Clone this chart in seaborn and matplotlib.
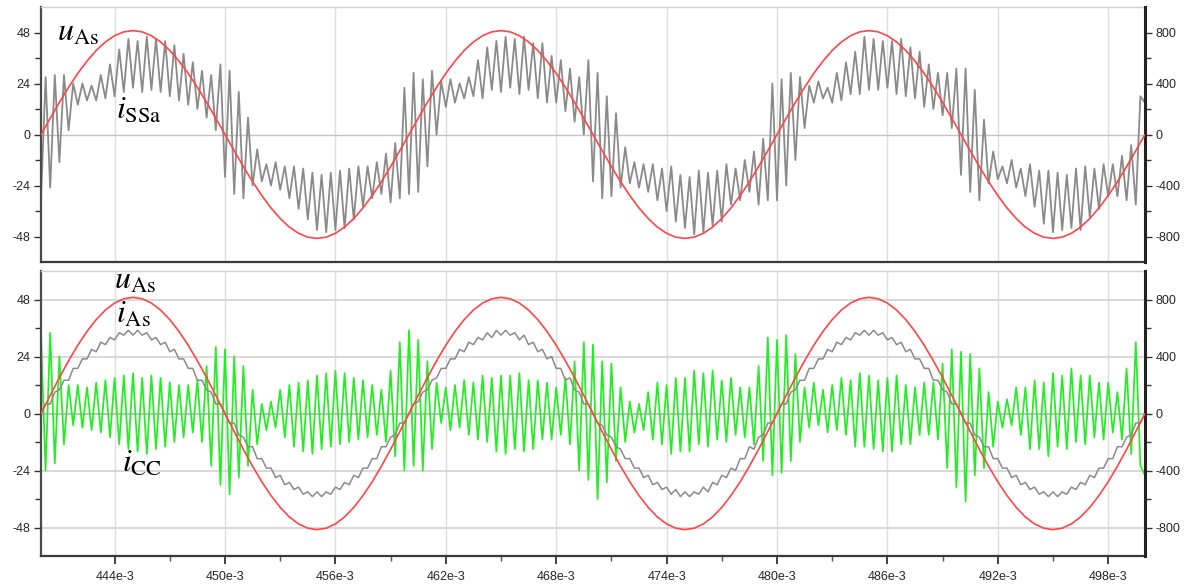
import numpy as np
import pandas as pd
import matplotlib
matplotlib.use("Agg")
import matplotlib.pyplot as plt
import seaborn as sns

# ---------------- data ----------------
T0 = 0.440          # s, left edge of the record
DT_I = 0.00025      # s, sample step of the current traces
DT_U = 0.0005       # s, sample step of the voltage trace

# supply voltage u_As (right axis, V), 0.5 ms samples, 440e-3 .. 500e-3
u_As = [
    0, 127, 252, 370, 479, 576, 659, 726, 775, 805, 815, 805, 775, 726, 659, 576, 479, 370, 252, 127,
    0, -127, -252, -370, -479, -576, -659, -726, -775, -805, -815, -805, -775, -726, -659, -576, -479, -370, -252, -127,
    0, 127, 252, 370, 479, 576, 659, 726, 775, 805, 815, 805, 775, 726, 659, 576, 479, 370, 252, 127,
    0, -127, -252, -370, -479, -576, -659, -726, -775, -805, -815, -805, -775, -726, -659, -576, -479, -370, -252, -127,
    0, 127, 252, 370, 479, 576, 659, 726, 775, 805, 815, 805, 775, 726, 659, 576, 479, 370, 252, 127,
    0, -127, -252, -370, -479, -576, -659, -726, -775, -805, -815, -805, -775, -726, -659, -576, -479, -370, -252, -127,
    0,
]

# load-side current i_SSa (top panel, left axis, A), 0.25 ms samples
i_SSa = [
    -30, 27, -25, 28, -13, 28, 2, 24, 14, 24,
    16, 23, 16, 28, 17, 33, 18, 40, 20, 45,
    22, 44, 20, 46, 21, 45, 20, 44, 18, 42,
    16, 38, 14, 34, 12, 30, 8, 28, 2, 33,
    -20, 30, -28, 20, -30, 8, -24, -7, -22, -14,
    -24, -13, -26, -15, -30, -15, -35, -16, -40, -18,
    -45, -19, -46, -18, -45, -17, -44, -16, -40, -15,
    -34, -15, -30, -13, -28, -9, -32, -4, -30, 22,
    -28, 29, -27, 26, -15, 30, 0, 25, 13, 26,
    15, 24, 17, 27, 18, 35, 17, 41, 21, 44,
    20, 46, 22, 45, 19, 46, 21, 43, 17, 43,
    15, 37, 15, 35, 11, 31, 6, 27, 0, 35,
    -22, 29, -30, 18, -29, 10, -25, -6, -23, -13,
    -25, -14, -27, -14, -31, -16, -36, -15, -41, -19,
    -44, -20, -47, -17, -46, -18, -43, -17, -41, -14,
    -33, -16, -31, -12, -27, -8, -33, -2, -31, 24,
    -31, 26, -24, 29, -12, 27, 3, 23, 15, 25,
    17, 22, 15, 29, 16, 34, 19, 39, 19, 46,
    21, 45, 21, 44, 22, 44, 19, 45, 18, 41,
    17, 39, 13, 33, 12, 29, 9, 29, 3, 31,
    -19, 31, -27, 21, -31, 7, -23, -8, -21, -15,
    -23, -12, -25, -16, -29, -14, -34, -17, -42, -17,
    -46, -18, -45, -19, -44, -16, -45, -15, -39, -16,
    -35, -14, -29, -14, -29, -10, -31, -5, -33, 18,
    15,
]

# source current i_As (bottom panel, left axis, A), 0.25 ms samples
i_As = [
    0, 4, 4, 9, 10, 14, 14, 19, 19, 23, 23, 27, 26, 30, 29, 32, 31, 34, 33, 35,
    33, 35, 33, 34, 31, 32, 29, 30, 26, 27, 23, 23, 19, 19, 14, 14, 10, 9, 4, 4,
    0, -4, -4, -9, -10, -14, -14, -19, -19, -23, -23, -27, -26, -30, -29, -32, -31, -34, -33, -35,
    -33, -35, -33, -34, -31, -32, -29, -30, -26, -27, -23, -23, -19, -19, -14, -14, -10, -9, -4, -4,
    0, 4, 5, 9, 10, 14, 15, 19, 19, 23, 23, 27, 26, 30, 29, 32, 31, 34, 32, 35,
    33, 35, 33, 34, 31, 33, 29, 30, 26, 27, 23, 24, 19, 19, 14, 15, 10, 9, 4, 4,
    0, -4, -5, -9, -10, -14, -15, -19, -19, -23, -23, -27, -26, -30, -29, -32, -31, -34, -32, -35,
    -33, -35, -33, -34, -31, -33, -29, -30, -26, -27, -23, -24, -19, -19, -14, -15, -10, -9, -4, -4,
    0, 4, 4, 9, 10, 14, 14, 19, 19, 23, 23, 27, 26, 30, 29, 32, 31, 34, 33, 35,
    33, 35, 33, 34, 31, 32, 29, 30, 26, 27, 23, 23, 19, 19, 14, 14, 10, 9, 4, 4,
    0, -4, -4, -9, -10, -14, -14, -19, -19, -23, -23, -27, -26, -30, -29, -32, -31, -34, -33, -35,
    -33, -35, -33, -34, -31, -32, -29, -30, -26, -27, -23, -23, -19, -19, -14, -14, -10, -9, -4, -4,
    0,
]

# compensating current i_CC (bottom panel, left axis, A), 0.25 ms samples
i_CC = [
    33, -24, 34, -21, 24, -13, 12, -5, 12, -6,
    11, -7, 13, -8, 14, -10, 15, -13, 16, -15,
    17, -16, 15, -17, 16, -15, 15, -14, 13, -12,
    12, -10, 12, -8, 14, -12, 20, -22, 28, -30,
    27, -34, 24, -27, 20, -22, 10, -13, 4, -7,
    5, -6, 10, -10, 12, -14, 13, -16, 14, -17,
    16, -15, 17, -14, 18, -13, 17, -12, 15, -11,
    14, -10, 12, -9, 10, -12, 18, -18, 30, -24,
    35, -22, 31, -24, 22, -15, 13, -4, 11, -7,
    12, -6, 14, -9, 13, -11, 16, -12, 15, -16,
    16, -17, 16, -15, 17, -16, 14, -15, 14, -11,
    13, -11, 11, -9, 15, -13, 22, -24, 30, -28,
    29, -36, 22, -29, 21, -20, 11, -12, 5, -8,
    4, -7, 9, -11, 13, -13, 12, -17, 15, -16,
    15, -16, 18, -13, 17, -14, 18, -11, 14, -12,
    15, -9, 11, -10, 11, -13, 20, -20, 32, -26,
    31, -25, 33, -20, 25, -12, 11, -6, 13, -5,
    10, -8, 12, -7, 15, -9, 14, -14, 17, -14,
    16, -15, 14, -16, 15, -16, 16, -13, 12, -13,
    11, -9, 13, -9, 13, -11, 21, -23, 27, -31,
    26, -37, 25, -26, 19, -23, 9, -14, 5, -6,
    6, -5, 11, -9, 11, -15, 14, -15, 13, -18,
    17, -14, 16, -15, 19, -12, 16, -13, 16, -10,
    13, -11, 13, -8, 9, -11, 19, -17, 30, -22,
    -26,
]

# axes ticks and labels
x_ticks = [0.444, 0.450, 0.456, 0.462, 0.468, 0.474, 0.480, 0.486, 0.492, 0.498]
x_tick_labels = ["444e-3", "450e-3", "456e-3", "462e-3", "468e-3",
                 "474e-3", "480e-3", "486e-3", "492e-3", "498e-3"]
x_minor = [0.447, 0.453, 0.459, 0.465, 0.471, 0.477, 0.483, 0.489, 0.495]
left_ticks = [-48, -24, 0, 24, 48]
left_tick_labels = ["-48", "-24", "0", "24", "48"]
left_minor = [-36, -12, 12, 36]
right_ticks = [-800, -400, 0, 400, 800]
right_tick_labels = ["-800", "-400", "0", "400", "800"]
right_minor = [-600, -200, 200, 600]

assert len(i_SSa) == len(i_As) == len(i_CC) == 241
assert len(u_As) == 121

t_i = T0 + DT_I * np.arange(len(i_SSa))
t_u = T0 + DT_U * np.arange(len(u_As))
df_i = pd.DataFrame({"t": t_i, "i_SSa": i_SSa, "i_As": i_As, "i_CC": i_CC})
df_u = pd.DataFrame({"t": t_u, "u_As": u_As})

# ---------------- style ----------------
sns.set_style("white")
plt.rcParams["font.family"] = ["Liberation Sans", "DejaVu Sans"]
plt.rcParams["mathtext.fontset"] = "stix"
plt.rcParams["axes.unicode_minus"] = False

RED = "#ff4545"
GRAY = "#8a8a8a"
GREEN = "#22ee22"
GRID = "#dedede"

fig = plt.figure(figsize=(11.89, 5.87), dpi=100)
ax_top = fig.add_axes([0.03448, 0.55366, 0.92851, 0.43441])
ax_bot = fig.add_axes([0.03448, 0.05281, 0.92851, 0.48552])
ax_top2 = ax_top.twinx()
ax_bot2 = ax_bot.twinx()


def style(ax, ax2, bottom):
    ax.set_xlim(T0, 0.500)
    ax.set_ylim(-60, 60)
    ax2.set_ylim(-1000, 1000)
    ax.set_yticks(left_ticks, labels=left_tick_labels)
    ax.set_yticks(left_minor, minor=True)
    ax2.set_yticks(right_ticks, labels=right_tick_labels)
    ax2.set_yticks(right_minor, minor=True)
    ax.set_xticks(x_ticks, labels=x_tick_labels if bottom else [""] * len(x_ticks))
    ax.set_xticks(x_minor, minor=True)
    for a in (ax, ax2):
        a.set_xlabel("")
        a.set_ylabel("")
    ax.tick_params(axis="y", which="major", direction="out", length=5, width=1,
                   color="#333333", labelsize=9, pad=2.5, left=True)
    ax.tick_params(axis="y", which="minor", direction="out", length=4, width=1,
                   color="#333333", left=True)
    ax2.tick_params(axis="y", which="major", direction="out", length=5, width=1,
                    color="#333333", labelsize=9, pad=2.5, right=True)
    ax2.tick_params(axis="y", which="minor", direction="out", length=4, width=1,
                    color="#333333", right=True)
    if bottom:
        ax.tick_params(axis="x", which="major", direction="out", length=6, width=1.2,
                       color="#222222", labelsize=9, pad=5, bottom=True)
        ax.tick_params(axis="x", which="minor", direction="out", length=3.5, width=1,
                       color="#555555", bottom=True)
    else:
        ax.tick_params(axis="x", which="both", length=0, labelbottom=False)
    ax.grid(False)
    ax2.grid(False)
    for xt in x_ticks:
        ax.axvline(xt, color=GRID, lw=1.0, zorder=0)
    ax.spines["left"].set_color("#4a4a4a")
    ax.spines["left"].set_linewidth(1.6)
    ax.spines["bottom"].set_color("#3a3a3a")
    ax.spines["bottom"].set_linewidth(1.6)
    ax.spines["top"].set_color("#d0d0d0")
    ax.spines["top"].set_linewidth(1.0)
    ax.spines["right"].set_visible(False)
    for s in ("left", "bottom", "top"):
        ax2.spines[s].set_visible(False)
    ax2.spines["right"].set_color("#222222")
    ax2.spines["right"].set_linewidth(2.2)


# ---------------- top panel ----------------
sns.lineplot(data=df_i, x="t", y="i_SSa", ax=ax_top, color=GRAY, linewidth=1.3,
             errorbar=None, zorder=2)
sns.lineplot(data=df_u, x="t", y="u_As", ax=ax_top2, color=RED, linewidth=1.2,
             errorbar=None, zorder=3)
style(ax_top, ax_top2, bottom=False)
ax_top.axhline(0, color="#c4c4c4", lw=1.0, zorder=1)

# ---------------- bottom panel ----------------
sns.lineplot(data=df_i, x="t", y="i_CC", ax=ax_bot, color=GREEN, linewidth=1.25,
             errorbar=None, zorder=2)
sns.lineplot(data=df_i, x="t", y="i_As", ax=ax_bot, color=GRAY, linewidth=1.1,
             errorbar=None, zorder=3)
sns.lineplot(data=df_u, x="t", y="u_As", ax=ax_bot2, color=RED, linewidth=1.2,
             errorbar=None, zorder=3)
style(ax_bot, ax_bot2, bottom=True)
for yt in left_ticks:
    ax_bot.axhline(yt, color="#d2d2d2" if yt else "#b4b4b4", lw=1.2, zorder=1)

# ---------------- curve labels ----------------
lab = dict(fontsize=23, color="black", va="baseline", ha="left", zorder=10)
ax_top2.text(0.44085, 44.3, r"$u_{\mathrm{As}}$", transform=ax_top.transData, **lab)
ax_top2.text(0.44410, 7.3, r"$i_{\mathrm{SSa}}$", transform=ax_top.transData, **lab)
ax_bot2.text(0.44395, 52.7, r"$u_{\mathrm{As}}$", transform=ax_bot.transData, **lab)
ax_bot2.text(0.44410, 38.0, r"$i_{\mathrm{As}}$", transform=ax_bot.transData, **lab)
ax_bot2.text(0.44440, -24.7, r"$i_{\mathrm{CC}}$", transform=ax_bot.transData, **lab)

fig.savefig("out.png", dpi=100)
